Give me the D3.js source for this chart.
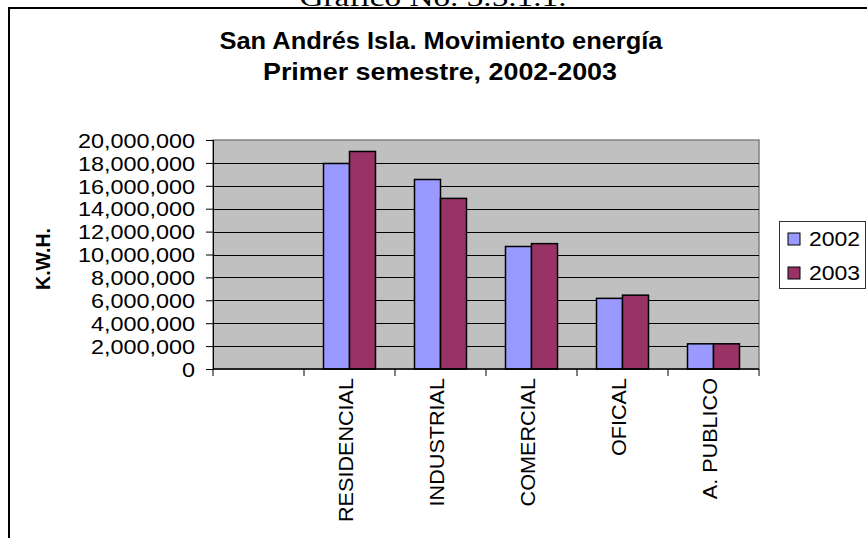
<!DOCTYPE html>
<html>
<head>
<meta charset="utf-8">
<script src="https://cdnjs.cloudflare.com/ajax/libs/d3/7.8.5/d3.min.js"></script>
<style>
  body { margin: 0; background: #fff; }
  text { font-family: "Liberation Sans", Arial, sans-serif; fill: #000; }
</style>
</head>
<body>
<script>
// data
var categories = ["", "RESIDENCIAL", "INDUSTRIAL", "COMERCIAL", "OFICAL", "A. PUBLICO"];
var years = ["2002", "2003"];
var values2002 = [null, 17950000, 16550000, 10700000, 6170000, 2200000];
var values2003 = [null, 19000000, 14900000, 10950000, 6450000, 2200000];
var yTicks = [0, 2000000, 4000000, 6000000, 8000000, 10000000, 12000000, 14000000, 16000000, 18000000, 20000000];
var colors = {"2002": "#9999ff", "2003": "#993366"};

var width = 867, height = 538;
var plot = {left: 213, right: 759, top: 140, bottom: 369};

var svg = d3.select("body").append("svg")
    .attr("width", width)
    .attr("height", height);

// stretch text horizontally a bit, the original looks wider than Arial
function stretch(sel, k) {
  sel.each(function() {
    var w = this.getComputedTextLength();
    d3.select(this).attr("textLength", w * k).attr("lengthAdjust", "spacingAndGlyphs");
  });
}

// heading above the frame (cut off in the original too)
svg.append("text")
    .attr("x", 433).attr("y", 6)
    .attr("text-anchor", "middle")
    .style("font-family", "'Liberation Serif', 'Times New Roman', serif")
    .style("font-size", "26px")
    .attr("textLength", 267).attr("lengthAdjust", "spacingAndGlyphs")
    .text("Grafico No. 3.5.1.1.");

// outer frame, only top and left show
svg.append("path")
    .attr("d", "M9," + height + "V8H" + width)
    .attr("fill", "none")
    .attr("stroke", "#000")
    .attr("stroke-width", 2);

// title
svg.append("text")
    .attr("x", 441).attr("y", 49)
    .attr("text-anchor", "middle")
    .style("font-weight", "bold").style("font-size", "23px")
    .attr("textLength", 443).attr("lengthAdjust", "spacingAndGlyphs")
    .text("San Andrés Isla. Movimiento energía");
svg.append("text")
    .attr("x", 440).attr("y", 80)
    .attr("text-anchor", "middle")
    .style("font-weight", "bold").style("font-size", "23px")
    .attr("textLength", 354).attr("lengthAdjust", "spacingAndGlyphs")
    .text("Primer semestre, 2002-2003");

var x = d3.scaleBand()
    .domain(categories)
    .range([plot.left, plot.right])
    .padding(0);

var xSub = d3.scaleBand()
    .domain(years)
    .range([0, x.bandwidth()])
    .paddingInner(0)
    .paddingOuter(0.75);

var y = d3.scaleLinear()
    .domain([0, 20000000])
    .range([plot.bottom, plot.top]);

// plot background
svg.append("rect")
    .attr("x", plot.left).attr("y", plot.top)
    .attr("width", plot.right - plot.left)
    .attr("height", plot.bottom - plot.top)
    .attr("fill", "#c0c0c0")
    .attr("stroke", "#808080")
    .attr("stroke-width", 1.5);

// gridlines
svg.append("g")
  .selectAll("line")
  .data(yTicks.filter(function(d) { return d > 0 && d < 20000000; }))
  .enter().append("line")
    .attr("x1", plot.left).attr("x2", plot.right)
    .attr("y1", function(d) { return Math.round(y(d)) + 0.5; })
    .attr("y2", function(d) { return Math.round(y(d)) + 0.5; })
    .attr("stroke", "#000")
    .attr("stroke-width", 1);

// bars
var rows = categories.map(function(c, i) {
  return {cat: c, vals: [{year: "2002", v: values2002[i]}, {year: "2003", v: values2003[i]}]};
});

var groups = svg.append("g").selectAll("g")
    .data(rows)
    .enter().append("g")
    .attr("transform", function(d) { return "translate(" + x(d.cat) + ",0)"; });

groups.selectAll("rect")
    .data(function(d) { return d.vals.filter(function(v) { return v.v != null; }); })
    .enter().append("rect")
    .attr("x", function(d) { return xSub(d.year); })
    .attr("y", function(d) { return y(d.v); })
    .attr("width", xSub.bandwidth())
    .attr("height", function(d) { return y(0) - y(d.v); })
    .attr("fill", function(d) { return colors[d.year]; })
    .attr("stroke", "#000")
    .attr("stroke-width", 1.5);

// y axis
var yAxis = svg.append("g")
    .attr("transform", "translate(" + plot.left + ",0)")
    .call(d3.axisLeft(y).tickValues(yTicks).tickSize(7).tickPadding(11)
      .tickFormat(d3.format(",")));
yAxis.select(".domain").attr("stroke", "#000");
yAxis.selectAll("text")
    .style("font-family", "'Liberation Sans', Arial, sans-serif")
    .style("font-size", "20px")
    .attr("dy", "0.36em")
    .call(stretch, 1.17);

// x axis, ticks on category boundaries
var xAxis = svg.append("g")
    .attr("transform", "translate(0," + plot.bottom + ")");
xAxis.append("line")
    .attr("x1", plot.left).attr("x2", plot.right)
    .attr("stroke", "#000").attr("stroke-width", 1.5);
xAxis.selectAll(".tk")
    .data(categories.concat(["end"]))
    .enter().append("line")
    .attr("class", "tk")
    .attr("x1", function(d, i) { return i < categories.length ? x(d) : plot.right; })
    .attr("x2", function(d, i) { return i < categories.length ? x(d) : plot.right; })
    .attr("y1", 0).attr("y2", 7)
    .attr("stroke", "#000");

xAxis.selectAll(".lbl")
    .data(categories.filter(function(c) { return c !== ""; }))
    .enter().append("text")
    .attr("class", "lbl")
    .attr("transform", function(d) {
      return "translate(" + (x(d) + x.bandwidth() / 2 + 3) + ",9) rotate(-90)";
    })
    .attr("text-anchor", "end")
    .style("font-size", "20px")
    .text(function(d) { return d; })
    .call(stretch, 1.08);

// y axis title
svg.append("text")
    .attr("transform", "translate(50,259) rotate(-90)")
    .attr("text-anchor", "middle")
    .style("font-weight", "bold")
    .style("font-size", "20px")
    .attr("textLength", 62).attr("lengthAdjust", "spacingAndGlyphs")
    .text("K.W.H.");

// legend
var legend = svg.append("g");
legend.append("rect")
    .attr("x", 779.5).attr("y", 221.5)
    .attr("width", 86).attr("height", 67)
    .attr("fill", "#fff")
    .attr("stroke", "#333")
    .attr("stroke-width", 1);

var items = legend.selectAll(".item")
    .data(years)
    .enter().append("g")
    .attr("class", "item")
    .attr("transform", function(d, i) { return "translate(788," + (233 + i * 34) + ")"; });
items.append("rect")
    .attr("width", 12).attr("height", 12)
    .attr("fill", function(d) { return colors[d]; })
    .attr("stroke", "#000");
items.append("text")
    .attr("x", 21).attr("y", 13)
    .style("font-size", "20px")
    .text(function(d) { return d; })
    .call(stretch, 1.15);
</script>
</body>
</html>
